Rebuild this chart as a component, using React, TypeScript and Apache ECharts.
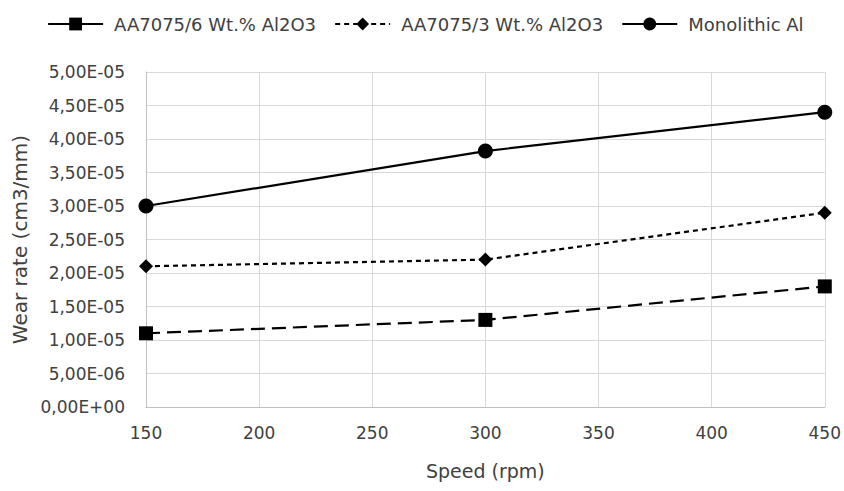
import React, { useEffect, useRef } from "react";
import * as echarts from "echarts";

const speeds = [150, 300, 450];
const wt6 = [1.1e-5, 1.3e-5, 1.8e-5];
const wt3 = [2.1e-5, 2.2e-5, 2.9e-5];
const mono = [3.0e-5, 3.82e-5, 4.4e-5];
const seriesNames = ["AA7075/6 Wt.% Al2O3", "AA7075/3 Wt.% Al2O3", "Monolithic Al"];

const fmt = (v: number) => {
  if (v === 0) return "0,00E+00";
  const [m, e] = v.toExponential(2).split("e");
  const n = parseInt(e, 10);
  const es = (n < 0 ? "-" : "+") + String(Math.abs(n)).padStart(2, "0");
  return m.replace(".", ",") + "E" + es;
};

export default function App() {
  const ref = useRef<HTMLDivElement>(null);
  useEffect(() => {
    const chart = echarts.init(ref.current!, null, { renderer: "svg" });
    const font = "'DejaVu Sans', sans-serif";
    const mk = (name: string, vals: number[], symbol: string, size: number, type: any) => ({
      name,
      type: "line",
      data: speeds.map((s, i) => [s, vals[i]]),
      symbol,
      symbolSize: size,
      showAllSymbol: true,
      lineStyle: { color: "#000", width: 2.2, type },
      itemStyle: { color: "#000" },
    });
    chart.setOption({
      animation: false,
      textStyle: { fontFamily: font },
      legend: {
        top: 10,
        left: 42,
        itemWidth: 55,
        itemHeight: 16,
        itemGap: 18,
        textStyle: { fontSize: 18, color: "#404040", fontFamily: font, padding: [0, 0, 0, 6] },
        data: [
          { name: seriesNames[0], lineStyle: { type: "solid", width: 2.2 } },
          { name: seriesNames[1], lineStyle: { type: [5, 4], width: 2.2 } },
          { name: seriesNames[2], lineStyle: { type: "solid", width: 2.2 } },
        ],
      },
      grid: { left: 146, right: 16, top: 72, bottom: 84 },
      xAxis: {
        type: "value",
        min: 150,
        max: 450,
        interval: 50,
        name: "Speed (rpm)",
        nameLocation: "middle",
        nameGap: 54,
        nameTextStyle: { fontSize: 19, color: "#404040", fontFamily: font },
        axisLine: { lineStyle: { color: "#bfbfbf" } },
        axisTick: { show: false },
        axisLabel: { fontSize: 17, color: "#404040", margin: 17, fontFamily: font },
        splitLine: { show: true, lineStyle: { color: "#d9d9d9" } },
      },
      yAxis: {
        type: "value",
        min: 0,
        max: 5e-5,
        interval: 5e-6,
        name: "Wear rate (cm3/mm)",
        nameLocation: "middle",
        nameGap: 109,
        nameTextStyle: { fontSize: 20, color: "#404040", fontFamily: font },
        axisLine: { show: true, lineStyle: { color: "#bfbfbf" } },
        axisTick: { show: false },
        axisLabel: { fontSize: 17, color: "#404040", margin: 21, formatter: fmt, fontFamily: font },
        splitLine: { show: true, lineStyle: { color: "#d9d9d9" } },
      },
      series: [
        mk(seriesNames[0], wt6, "rect", 14, [14, 7]),
        mk(seriesNames[1], wt3, "diamond", 14, [5, 4]),
        mk(seriesNames[2], mono, "circle", 15, "solid"),
      ],
    });
    return () => chart.dispose();
  }, []);
  return (
    <div
      ref={ref}
      style={{ position: "fixed", left: 0, top: 0, width: 844, height: 491, background: "#fff" }}
    />
  );
}
